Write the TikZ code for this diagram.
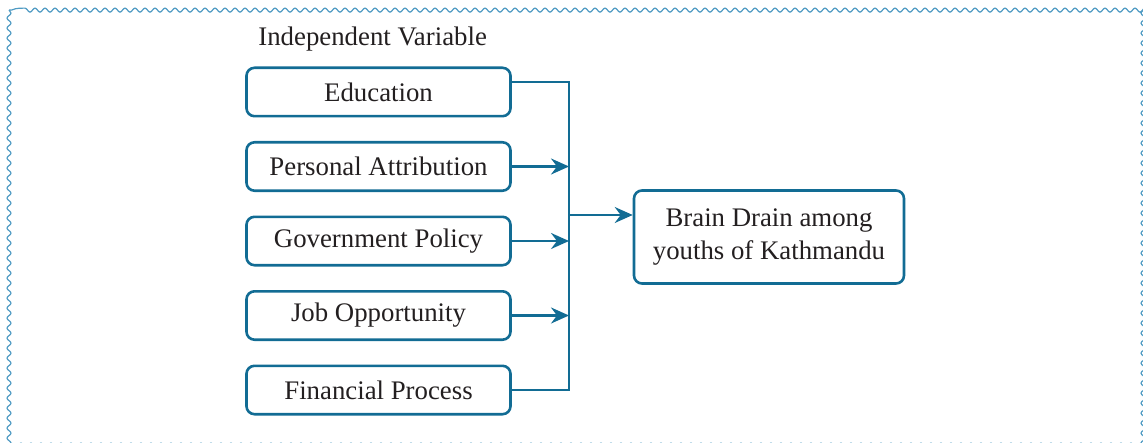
\documentclass[tikz,border=0pt]{standalone}
\usepackage{fontspec}
\setmainfont{Liberation Serif}
\usetikzlibrary{%
    arrows.meta,
    calc,
    decorations.pathmorphing,
    positioning
}
\definecolor{linkblue}{RGB}{18,108,148}
\definecolor{frameblue}{RGB}{80,155,195}
\definecolor{textgray}{RGB}{35,31,32}

\begin{document}
\begin{tikzpicture}[x=0.5pt, y=-0.5pt,
    node distance=11.75pt,
    every node/.style={text=textgray, font=\fontsize{13.4}{16.5}\selectfont},
    factor/.style={draw=linkblue, line width=1.3pt, rounded corners=4pt,
                   minimum width=132pt, minimum height=24.2pt, inner sep=0pt},
    link/.style={draw=linkblue, line width=1.2pt},
    tip/.style={-{Stealth[length=9pt,width=8pt,inset=3pt]}}
   ]
    \useasboundingbox (0,0) rectangle (1143,443);

    % wavy frame
    \draw[frameblue, line width=0.6pt, decorate,
          decoration={snake, amplitude=1pt, segment length=5pt}]
        (9,10) rectangle (1139,442);

    % independent variables
    \node[inner sep=0pt, anchor=west] (head) at (258,39) {Independent Variable};
    \node[factor] (edu) at (378.5,92) {Education};
    \node[factor, below=of edu] (pers) {Personal Attribution};
    \node[factor, below=of pers] (gov) {Government Policy};
    \node[factor, below=of gov] (job) {Job Opportunity};
    \node[factor, below=of job] (fin) {Financial Process};

    % dependent variable
    \node[factor, minimum width=135pt, minimum height=46.5pt, align=center]
        (brain) at (769,237) {Brain Drain among\\youths of Kathmandu};

    % collecting bus
    \coordinate (bus) at (569,215);
    \draw[link] ([yshift=5pt]edu.east) -| (bus) -- (bus |- fin.east) -- (fin.east);

    \foreach \Source in {pers, gov, job}
        \draw[link, tip] (\Source.east) -- (\Source.east -| bus);

    \draw[link, tip] (bus) -- (bus -| brain.west);
\end{tikzpicture}
\end{document}
